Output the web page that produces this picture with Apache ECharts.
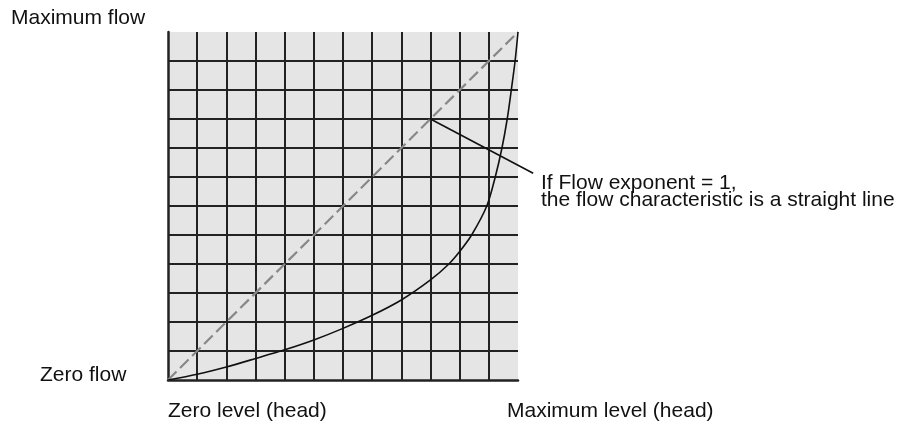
<!DOCTYPE html>
<html>
<head>
<meta charset="utf-8">
<script src="https://cdn.jsdelivr.net/npm/echarts@6/dist/echarts.min.js"></script>
<style>
html,body{margin:0;padding:0;background:#fff;}
#c{width:901px;height:424px;}
</style>
</head>
<body>
<div id="c"></div>
<script>
// Grid units: 0..12 on both axes (12 x 12 cells)
const gridDivisions = 12;
// Flow characteristic curve (level -> flow)
const curveX = [0, 1, 2, 3, 4, 5, 6, 7, 8, 9, 9.63, 10, 10.41, 10.93, 11.22, 11.45, 11.63, 11.77, 11.9, 12];
const curveY = [0, 0.2, 0.45, 0.74, 1.04, 1.38, 1.78, 2.23, 2.76, 3.45, 4, 4.43, 5, 6, 7, 8, 9, 10, 11, 12];
// Straight line for flow exponent = 1
const linearX = [0, 12];
const linearY = [0, 12];
// Annotation leader line (from the straight line to the note)
const leaderX = [9, 12.52];
const leaderY = [9, 7.13];
// Text labels
const labelMaxFlow = 'Maximum flow';
const labelZeroFlow = 'Zero flow';
const labelZeroLevel = 'Zero level (head)';
const labelMaxLevel = 'Maximum level (head)';
const noteLines = ['If Flow exponent = 1,', 'the flow characteristic is a straight line'];

const zip = (xs, ys) => xs.map((x, i) => [x, ys[i]]);
const FONT = '"Liberation Sans", Arial, Helvetica, sans-serif';
const txt = (text, x, y) => ({
  type: 'text', x: x, y: y, z: 10,
  style: { text: text, font: '21px ' + FONT, fill: '#111', verticalAlign: 'middle', align: 'left' }
});

const chart = echarts.init(document.getElementById('c'), null, { renderer: 'canvas' });
const axisCommon = {
  type: 'value', min: 0, max: gridDivisions, interval: 1,
  axisLabel: { show: false }, axisTick: { show: false },
  axisLine: { show: true, lineStyle: { color: '#222', width: 2.5 } },
  splitLine: { show: true, showMinLine: false, showMaxLine: false, lineStyle: { color: '#222', width: 2 } }
};
chart.setOption({
  animation: false,
  grid: { left: 168, top: 32, width: 350, height: 348, show: true, backgroundColor: '#e5e5e5', borderWidth: 0 },
  xAxis: Object.assign({}, axisCommon),
  yAxis: Object.assign({}, axisCommon),
  series: [
    {
      type: 'line', data: zip(linearX, linearY), showSymbol: false, symbol: 'none',
      lineStyle: { color: '#888', width: 2.2, type: [12, 5] }, z: 3
    },
    {
      type: 'line', data: zip(curveX, curveY), showSymbol: false, symbol: 'none', smooth: 0.3,
      lineStyle: { color: '#111', width: 1.6 }, z: 4
    }
  ]
});

const leaderPts = zip(leaderX, leaderY).map(p => chart.convertToPixel({ gridIndex: 0 }, p));
chart.setOption({
  graphic: [
    {
      type: 'polyline', z: 5,
      shape: { points: leaderPts },
      style: { stroke: '#111', lineWidth: 1.6, fill: null }
    },
    txt(labelMaxFlow, 11, 18),
    txt(labelZeroFlow, 40, 375),
    txt(labelZeroLevel, 168, 411),
    txt(labelMaxLevel, 507, 411.5),
    txt(noteLines[0], 541, 183),
    txt(noteLines[1], 541, 200)
  ]
});
</script>
</body>
</html>
